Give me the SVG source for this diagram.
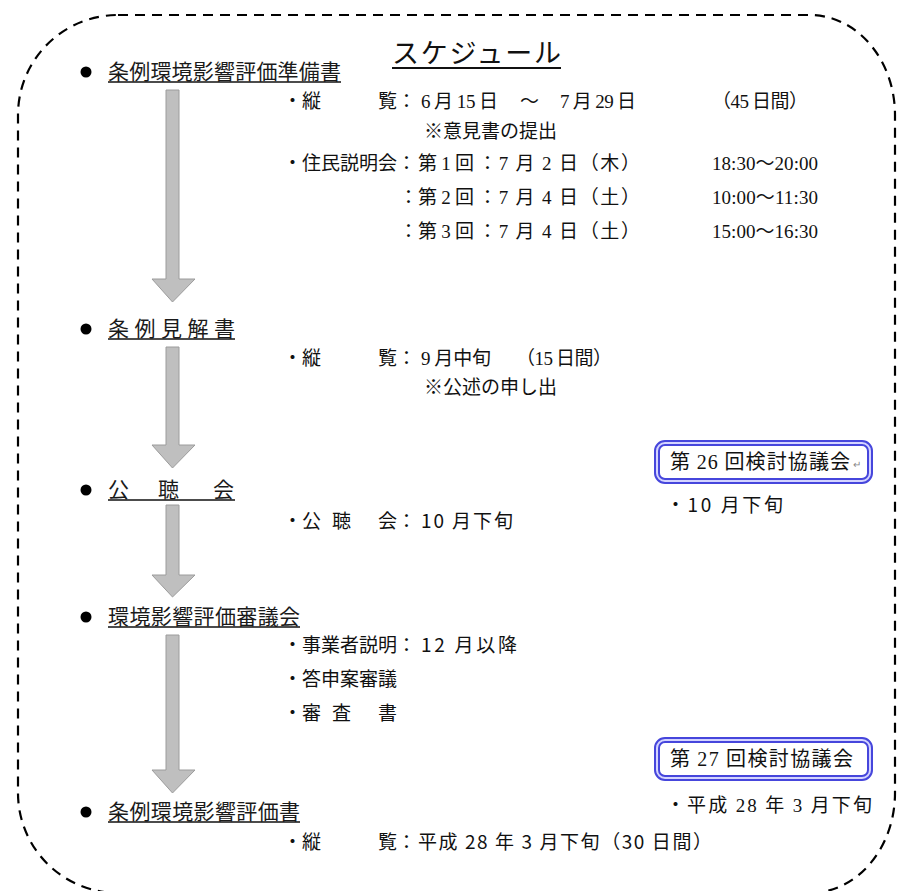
<svg xmlns="http://www.w3.org/2000/svg" width="901" height="891" viewBox="0 0 901 891">
<style>
text{font-family:"Noto Sans CJK JP","Noto Sans",sans-serif;fill:#111}
.b{font-size:19px}
.h{font-size:21px;fill:#1a1a1a}
.n{font-family:"Liberation Serif","Noto Sans CJK JP",serif}
.ul{stroke:#111;stroke-width:1.3}
.arrow{fill:#bfbfbf;stroke:#9c9c9c;stroke-width:1}
.box{fill:#fff;stroke:#4646dc;stroke-width:6}
.box2{fill:none;stroke:#d4d4ff;stroke-width:2}
.frame{fill:none;stroke:#000;stroke-width:2.2;stroke-dasharray:10 7}
</style>
<path class="frame" d="M118,15 H810 A85,100 0 0 1 895,115 V793 A85,100 0 0 1 810,893 H118 A100,100 0 0 1 18,793 V115 A100,100 0 0 1 118,15 Z"/>
<g id="title">
<text x="392" y="63" style="font-size:27px" textLength="169">スケジュール</text>
<line class="ul" x1="392" y1="68" x2="561" y2="68" style="stroke-width:2"/>
</g>
<g id="connectors">
<path class="arrow" d="M166,90 H179 V279 H195 L172.5,302 L152,279 H166 Z"/>
<path class="arrow" d="M166,347 H179 V445 H195 L172.5,468 L152,445 H166 Z"/>
<path class="arrow" d="M166,505 H179 V575 H195 L172.5,597 L152,575 H166 Z"/>
<path class="arrow" d="M166,635 H179 V770 H195 L172.5,793 L152,770 H166 Z"/>
</g>
<g id="item1">
<circle cx="86" cy="72" r="5.5" fill="#000"/>
<text class="h" x="108" y="79" textLength="233">条例環境影響評価準備書</text>
<line class="ul" x1="108" y1="82" x2="341" y2="82"/>
<text class="b" x="283" y="108">・縦</text>
<text class="b" x="378" y="108">覧：</text>
<text class="b" x="421" y="108" textLength="77"><tspan class="n">6</tspan> 月 <tspan class="n">15</tspan> 日</text>
<text class="b" x="520" y="108">～</text>
<text class="b" x="560" y="108" textLength="76"><tspan class="n">7</tspan> 月 <tspan class="n">29</tspan> 日</text>
<text class="b" x="712" y="108" textLength="96">（<tspan class="n">45</tspan> 日間）</text>
<text class="b" x="424" y="138">※意見書の提出</text>
<text class="b" x="283" y="170">・住民説明会：</text>
<text class="b" x="418" y="170" textLength="56">第 <tspan class="n">1</tspan> 回</text>
<text class="b" x="478" y="170" textLength="162">：<tspan class="n">7</tspan> 月 <tspan class="n">2</tspan> 日（木）</text>
<text class="b n" x="712" y="170" textLength="106">18:30～20:00</text>
<text class="b" x="399" y="204" textLength="75">：第 <tspan class="n">2</tspan> 回</text>
<text class="b" x="478" y="204" textLength="162">：<tspan class="n">7</tspan> 月 <tspan class="n">4</tspan> 日（土）</text>
<text class="b n" x="712" y="204" textLength="106">10:00～11:30</text>
<text class="b" x="399" y="238" textLength="75">：第 <tspan class="n">3</tspan> 回</text>
<text class="b" x="478" y="238" textLength="162">：<tspan class="n">7</tspan> 月 <tspan class="n">4</tspan> 日（土）</text>
<text class="b n" x="712" y="238" textLength="106">15:00～16:30</text>
</g>
<g id="item2">
<circle cx="86" cy="329" r="5.5" fill="#000"/>
<text class="h" x="108" y="336" textLength="127">条例見解書</text>
<line class="ul" x1="108" y1="339" x2="235" y2="339"/>
<text class="b" x="283" y="365">・縦</text>
<text class="b" x="378" y="365">覧：</text>
<text class="b" x="421" y="365" textLength="70"><tspan class="n">9</tspan> 月中旬</text>
<text class="b" x="516" y="365" textLength="96">（<tspan class="n">15</tspan> 日間）</text>
<text class="b" x="424" y="394">※公述の申し出</text>
</g>
<g id="item3">
<circle cx="86" cy="490" r="5.5" fill="#000"/>
<text class="h" x="108" y="497">公</text>
<text class="h" x="158" y="497">聴</text>
<text class="h" x="213" y="497">会</text>
<line class="ul" x1="108" y1="500" x2="235" y2="500"/>
<text class="b" x="283" y="528">・公</text>
<text class="b" x="332" y="528">聴</text>
<text class="b" x="378" y="528">会：</text>
<text class="b" x="421" y="528" textLength="92">10 月下旬</text>
</g>
<g id="item4">
<circle cx="86" cy="617" r="5.5" fill="#000"/>
<text class="h" x="108" y="624" textLength="192">環境影響評価審議会</text>
<line class="ul" x1="108" y1="627" x2="300" y2="627"/>
<text class="b" x="283" y="652">・事業者説明：</text>
<text class="b" x="421" y="652" textLength="96">12 月以降</text>
<text class="b" x="283" y="686">・答申案審議</text>
<text class="b" x="283" y="720">・審</text>
<text class="b" x="332" y="720">査</text>
<text class="b" x="378" y="720">書</text>
</g>
<g id="item5">
<circle cx="86" cy="812" r="5.5" fill="#000"/>
<text class="h" x="108" y="819" textLength="192">条例環境影響評価書</text>
<line class="ul" x1="108" y1="822" x2="300" y2="822"/>
<text class="b" x="283" y="849">・縦</text>
<text class="b" x="378" y="849">覧：</text>
<text class="b" x="418" y="849" textLength="294">平成 28 年 3 月下旬（30 日間）</text>
</g>
<g id="meeting26">
<rect class="box" x="657" y="443" width="213" height="38" rx="8"/>
<rect class="box2" x="657" y="443" width="213" height="38" rx="8"/>
<text x="670" y="469" style="font-size:20px" textLength="180">第 <tspan class="n">26</tspan> 回検討協議会</text>
<text x="853" y="468" style="font-size:10px;fill:#888">↵</text>
<text class="b" x="666" y="512" textLength="117">・10 月下旬</text>
</g>
<g id="meeting27">
<rect class="box" x="657" y="740" width="213" height="38" rx="8"/>
<rect class="box2" x="657" y="740" width="213" height="38" rx="8"/>
<text x="670" y="766" style="font-size:20px" textLength="183">第 <tspan class="n">27</tspan> 回検討協議会</text>
<text class="b" x="666" y="812" textLength="206">・平成 <tspan class="n">28</tspan> 年 <tspan class="n">3</tspan> 月下旬</text>
</g>
</svg>
